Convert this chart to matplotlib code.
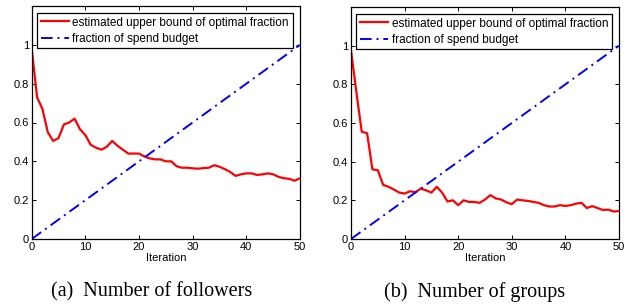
import matplotlib
matplotlib.use("Agg")
import matplotlib.pyplot as plt

iterations = list(range(0, 51))
followers_bound = [0.98, 0.73, 0.67, 0.55, 0.505, 0.52, 0.59, 0.60, 0.62, 0.565,
                   0.535, 0.485, 0.47, 0.46, 0.475, 0.505, 0.48, 0.46, 0.44, 0.44,
                   0.44, 0.425, 0.415, 0.41, 0.41, 0.40, 0.40, 0.375, 0.367, 0.367,
                   0.364, 0.362, 0.365, 0.367, 0.38, 0.372, 0.36, 0.345, 0.325, 0.333,
                   0.338, 0.338, 0.33, 0.333, 0.338, 0.333, 0.32, 0.313, 0.31, 0.30,
                   0.313]
groups_bound = [0.975, 0.76, 0.555, 0.547, 0.36, 0.356, 0.28, 0.27, 0.256, 0.24,
                0.235, 0.247, 0.242, 0.26, 0.252, 0.24, 0.27, 0.24, 0.194, 0.20,
                0.175, 0.20, 0.192, 0.192, 0.187, 0.204, 0.227, 0.21, 0.204, 0.19,
                0.18, 0.204, 0.20, 0.197, 0.192, 0.187, 0.175, 0.168, 0.168, 0.175,
                0.171, 0.175, 0.183, 0.187, 0.16, 0.17, 0.16, 0.15, 0.152, 0.142,
                0.145]
budget_x = [0, 50]
budget_frac = [0.0, 1.0]

xticks = [0, 10, 20, 30, 40, 50]
yticks = [0, 0.2, 0.4, 0.6, 0.8, 1.0]
ytick_labels = ["0", "0.2", "0.4", "0.6", "0.8", "1"]
legend_labels = ["estimated upper bound of optimal fraction", "fraction of spend budget"]
xlabel = "Iteration"
captions = ["(a)  Number of followers", "(b)  Number of groups"]

plt.rcParams["font.family"] = ["Liberation Sans", "DejaVu Sans"]

W, H = 635, 305
fig = plt.figure(figsize=(W / 100, H / 100), dpi=100)

def px_axes(x0, x1, ytop, ybot):
    return fig.add_axes([x0 / W, (H - ybot) / H, (x1 - x0) / W, (ybot - ytop) / H])

panels = [
    (px_axes(31.7, 300, 6, 239), followers_bound, captions[0], 152),
    (px_axes(351, 619, 7, 239), groups_bound, captions[1], 475),
]

for ax, bound, cap, cx in panels:
    ax.plot(iterations, bound, color="#ff0000", lw=1.6, label=legend_labels[0])
    ax.plot(budget_x, budget_frac, color="#0000ff", lw=1.4, linestyle=(0, (6, 2.5, 1, 2.5)),
            label=legend_labels[1])
    ax.set_xlim(0, 50)
    ax.set_ylim(0, 1.2)
    ax.set_xticks(xticks)
    ax.set_xticklabels([str(t) for t in xticks])
    ax.set_yticks(yticks)
    ax.set_yticklabels(ytick_labels)
    ax.tick_params(direction="in", top=True, right=True, length=3, width=0.7,
                   labelsize=8, pad=2)
    for s in ax.spines.values():
        s.set_linewidth(0.9)
    ax.set_xlabel(xlabel, fontsize=8, labelpad=1)
    leg = ax.legend(loc="upper left", bbox_to_anchor=(0.02, 0.97), borderaxespad=0,
                    fontsize=8.5, handlelength=2.4, handletextpad=0.3, borderpad=0.3,
                    labelspacing=0.35, fancybox=False, framealpha=1, edgecolor="black")
    leg.get_frame().set_linewidth(0.9)
    fig.text(cx / W, (H - 292) / H, cap, ha="center", va="center",
             fontsize=14.5, family=["Liberation Serif", "DejaVu Serif"])

fig.savefig("out.png", dpi=100)
